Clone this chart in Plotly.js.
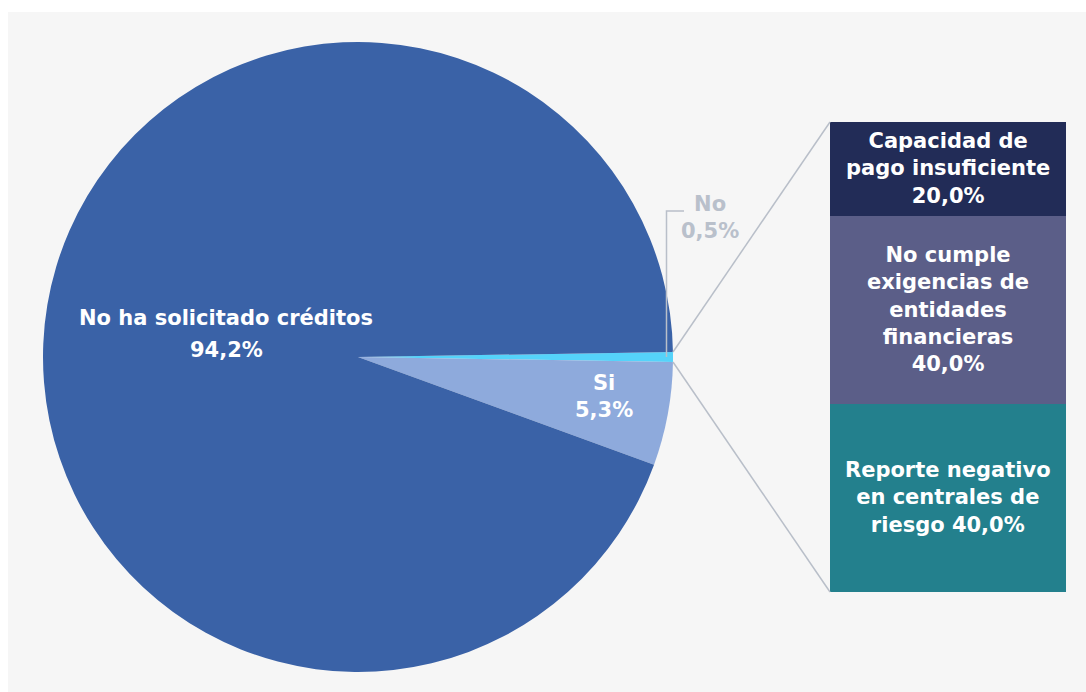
<!DOCTYPE html>
<html>
<head>
<meta charset="utf-8">
<script src="https://cdn.plot.ly/plotly-3.0.1.min.js"></script>
<style>
html,body{margin:0;padding:0;background:#ffffff;}
#chart{width:1086px;height:692px;}
</style>
</head>
<body>
<div id="chart"></div>
<script>
// ---- data ----
var pieLabels = ["No", "Si", "No ha solicitado créditos"];
var pieValues = [0.5, 5.3, 94.2];
var pieColors = ["#55d3fa", "#8eaadc", "#3a62a7"];

var barLabels = ["Reporte negativo<br>en centrales de<br>riesgo", "No cumple<br>exigencias de<br>entidades<br>financieras", "Capacidad de<br>pago insuficiente"];
var barValues = [40.0, 40.0, 20.0];
var barColors = ["#23808d", "#5b5e88", "#222c57"];
var barJoin = [" ", "<br>", "<br>"];

// ---- helpers ----
var W = 1086, H = 692;
function px(x){ return x / W; }
function py(y){ return 1 - y / H; }
function fmt(v){ return v.toFixed(1).replace('.', ',') + '%'; }

var traces = [];
traces.push({
  type: 'pie',
  labels: pieLabels,
  values: pieValues,
  sort: false,
  direction: 'clockwise',
  rotation: 89.1,
  marker: {colors: pieColors, line: {width: 0}},
  textinfo: 'none',
  hoverinfo: 'label+percent',
  showlegend: false,
  domain: {x: [px(43), px(673)], y: [py(672), py(42)]}
});

barValues.forEach(function(v, i){
  traces.push({
    type: 'bar',
    x: [0],
    y: [v],
    width: 1,
    name: barLabels[i],
    marker: {color: barColors[i], line: {width: 0}},
    hoverinfo: 'name+y',
    showlegend: false,
    xaxis: 'x',
    yaxis: 'y'
  });
});

var fontFam = '"DejaVu Sans", sans-serif';
var fs = 21;
var annotations = [];
// bar labels at stacked midpoints
var cum = 0;
barValues.forEach(function(v, i){
  annotations.push({
    xref: 'x', yref: 'y', x: 0, y: cum + v / 2,
    xanchor: 'center', yanchor: 'middle',
    text: '<b>' + barLabels[i] + barJoin[i] + fmt(v) + '</b>',
    showarrow: false,
    font: {family: fontFam, size: fs, color: '#ffffff'},
    align: 'center'
  });
  cum += v;
});

// pie labels
function txtAnn(text, x, y, color){
  annotations.push({
    xref: 'paper', yref: 'paper', x: px(x), y: py(y),
    xanchor: 'center', yanchor: 'middle',
    text: '<b>' + text + '</b>',
    showarrow: false, font: {family: fontFam, size: fs, color: color}, align: 'center'
  });
}
txtAnn(pieLabels[2], 226, 318, '#ffffff');
txtAnn(fmt(pieValues[2]), 226, 350, '#ffffff');
txtAnn(pieLabels[1] + '<br>' + fmt(pieValues[1]), 604, 397, '#ffffff');
txtAnn(pieLabels[0] + '<br>' + fmt(pieValues[0]), 710, 217, '#b9c0cb');

var lineStyle = {color: '#b9bfc9', width: 1.5};
var shapes = [
  {type: 'rect', xref: 'paper', yref: 'paper', x0: px(8), x1: 1, y0: 0, y1: py(12),
   fillcolor: '#f6f6f6', line: {width: 0}, layer: 'below'},
  {type: 'line', xref: 'paper', yref: 'paper', x0: px(673), y0: py(352), x1: px(830), y1: py(122), line: lineStyle},
  {type: 'line', xref: 'paper', yref: 'paper', x0: px(673), y0: py(362), x1: px(830), y1: py(592), line: lineStyle},
  {type: 'path', xref: 'paper', yref: 'paper',
   path: 'M ' + px(684) + ' ' + py(211) + ' L ' + px(666.5) + ' ' + py(211) + ' L ' + px(666.5) + ' ' + py(357),
   line: lineStyle}
];

var layout = {
  width: W, height: H,
  margin: {l: 0, r: 0, t: 0, b: 0, pad: 0},
  paper_bgcolor: '#ffffff',
  plot_bgcolor: 'rgba(0,0,0,0)',
  barmode: 'stack',
  separators: ',.',
  showlegend: false,
  xaxis: {domain: [px(830), px(1066)], range: [-0.5, 0.5], visible: false, fixedrange: true},
  yaxis: {domain: [py(592), py(122)], range: [0, 100], visible: false, fixedrange: true},
  shapes: shapes,
  annotations: annotations,
  font: {family: fontFam}
};

Plotly.newPlot('chart', traces, layout, {displayModeBar: false, staticPlot: true});
</script>
</body>
</html>
